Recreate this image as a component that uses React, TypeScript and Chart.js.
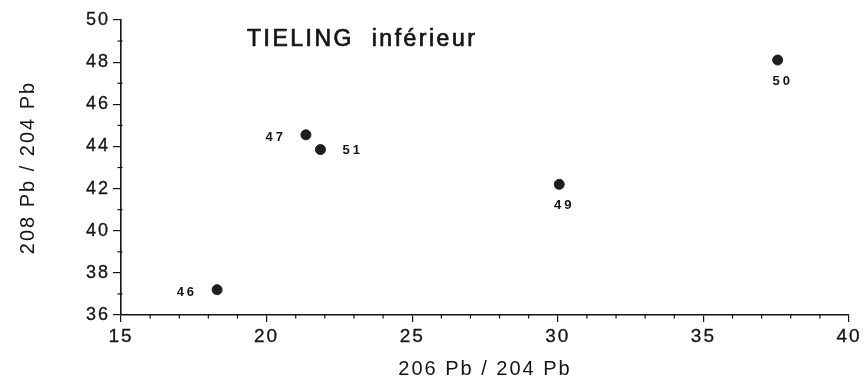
import React, { useEffect, useRef } from "react";
import { Chart, registerables } from "chart.js";

Chart.register(...registerables);

// ---- data ----
const sampleIds = ["46", "47", "51", "49", "50"];
const pb206_204 = [18.3, 21.35, 21.85, 30.05, 37.55];
const pb208_204 = [37.2, 44.55, 43.85, 42.2, 48.1];
const labelSides = ["left", "left", "right", "below", "below"];

const xTitle = "206 Pb / 204 Pb";
const yTitle = "208 Pb / 204 Pb";
const chartTitle = "TIELING  inférieur";

const xMin = 15;
const xMax = 40;
const xStep = 5;
const yMin = 36;
const yMax = 50;
const yStep = 2;

const FONT = '"Liberation Sans", Arial, Helvetica, sans-serif';
const INK = "#141414";

const decorPlugin = {
  id: "decor",
  beforeDraw(chart: any) {
    chart.ctx.letterSpacing = "2px";
  },
  afterDraw(chart: any) {
    const ctx = chart.ctx;
    const xs = chart.scales.x;
    const ys = chart.scales.y;
    ctx.save();
    // minor ticks
    ctx.strokeStyle = INK;
    ctx.lineWidth = 1.2;
    for (let v = xMin; v <= xMax; v++) {
      if ((v - xMin) % xStep === 0) continue;
      const px = xs.getPixelForValue(v);
      ctx.beginPath();
      ctx.moveTo(px, xs.top);
      ctx.lineTo(px, xs.top + 3.5);
      ctx.stroke();
    }
    for (let v = yMin; v <= yMax; v++) {
      if ((v - yMin) % yStep === 0) continue;
      const py = ys.getPixelForValue(v);
      ctx.beginPath();
      ctx.moveTo(ys.right - 3.5, py);
      ctx.lineTo(ys.right + 1.5, py);
      ctx.stroke();
    }
    // title inside plot
    ctx.fillStyle = INK;
    ctx.strokeStyle = INK;
    ctx.lineWidth = 0.7;
    ctx.font = `23px ${FONT}`;
    ctx.letterSpacing = "2.5px";
    ctx.textAlign = "left";
    ctx.textBaseline = "middle";
    const area = chart.chartArea;
    ctx.fillText(chartTitle, area.left + 126, area.top + 20);
    ctx.strokeText(chartTitle, area.left + 126, area.top + 20);

    // point labels
    ctx.font = `bold 13px ${FONT}`;
    ctx.letterSpacing = "3px";
    const meta = chart.getDatasetMeta(0);
    meta.data.forEach((el: any, i: number) => {
      const side = labelSides[i];
      const t = sampleIds[i];
      if (side === "left") {
        ctx.textAlign = "right";
        ctx.textBaseline = "middle";
        ctx.fillText(t, el.x - 20, el.y + 3);
      } else if (side === "right") {
        ctx.textAlign = "left";
        ctx.textBaseline = "middle";
        ctx.fillText(t, el.x + 22, el.y + 1);
      } else {
        ctx.textAlign = "center";
        ctx.textBaseline = "middle";
        ctx.fillText(t, el.x + 5, el.y + 21);
      }
    });
    ctx.restore();
  },
};

export default function App() {
  const ref = useRef<HTMLCanvasElement | null>(null);

  useEffect(() => {
    if (!ref.current) return;
    const chart = new Chart(ref.current, {
      type: "scatter",
      data: {
        datasets: [
          {
            label: "samples",
            data: pb206_204.map((x, i) => ({ x, y: pb208_204[i] })),
            backgroundColor: "#1e1e1e",
            borderColor: "#1e1e1e",
            pointRadius: 5,
            pointHoverRadius: 5,
          },
        ],
      },
      options: {
        responsive: false,
        animation: false,
        layout: { padding: { top: 20, right: 16, left: 0, bottom: 0 } },
        plugins: {
          legend: { display: false },
          tooltip: { enabled: false },
        },
        scales: {
          x: {
            type: "linear",
            position: "bottom",
            min: xMin,
            max: xMax,
            ticks: {
              stepSize: xStep,
              color: INK,
              font: { family: FONT, size: 19 },
              padding: 3,
              maxRotation: 0,
              textStrokeColor: INK,
              textStrokeWidth: 0.3,
            },
            grid: {
              drawOnChartArea: false,
              drawTicks: true,
              tickLength: 7,
              color: INK,
              lineWidth: 1.2,
            },
            border: { display: true, color: INK, width: 1.6 },
            title: {
              display: true,
              text: xTitle,
              color: INK,
              font: { family: FONT, size: 20 },
              padding: { top: 0, bottom: 1 },
            },
            afterFit(s: any) {
              s.height = 67;
            },
          },
          y: {
            type: "linear",
            position: "left",
            min: yMin,
            max: yMax,
            ticks: {
              stepSize: yStep,
              color: INK,
              font: { family: FONT, size: 18 },
              padding: 3,
              textStrokeColor: INK,
              textStrokeWidth: 0.3,
            },
            grid: {
              drawOnChartArea: false,
              drawTicks: true,
              tickLength: 8,
              color: INK,
              lineWidth: 1.2,
            },
            border: { display: true, color: INK, width: 1.6 },
            title: {
              display: true,
              text: yTitle,
              color: INK,
              font: { family: FONT, size: 20 },
              padding: { top: 16, bottom: 0 },
            },
            afterFit(s: any) {
              s.width = 121;
            },
          },
        },
      },
      plugins: [decorPlugin],
    });
    return () => chart.destroy();
  }, []);

  return (
    <canvas
      ref={ref}
      width={865}
      height={382}
      style={{ position: "absolute", left: 0, top: 0, width: 865, height: 382 }}
    />
  );
}
